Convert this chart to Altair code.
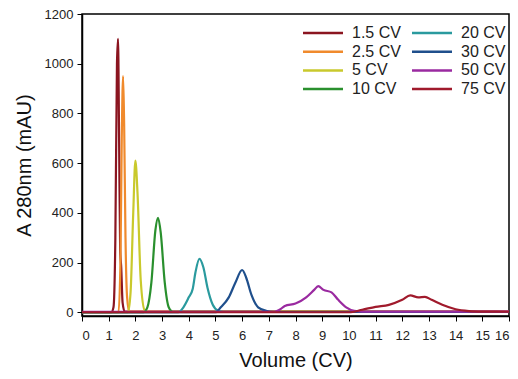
import altair as alt
import pandas as pd

series_names = ["1.5 CV", "2.5 CV", "5 CV", "10 CV", "20 CV", "30 CV", "50 CV", "75 CV"]
series_colors = ["#8b1520", "#f08a2c", "#c9c92c", "#2a902e", "#2a9a9e", "#1f4f8c", "#9a2aa0", "#a01a2c"]

x_15 = [0, 1.1, 1.18, 1.25, 1.31, 1.35, 1.39, 1.43, 1.47, 1.52, 1.6, 16]
y_15 = [0, 0, 20, 300, 1000, 1100, 700, 250, 180, 40, 3, 3]
x_25 = [0, 1.37, 1.44, 1.49, 1.54, 1.58, 1.63, 1.69, 1.77, 16]
y_25 = [0, 0, 200, 700, 950, 750, 300, 60, 3, 2]
x_5 = [0, 1.72, 1.82, 1.92, 2.0, 2.08, 2.2, 2.35, 2.5, 16]
y_5 = [0, 0, 80, 400, 610, 480, 130, 8, 1, 1]
x_10 = [0, 2.3, 2.45, 2.6, 2.75, 2.85, 2.95, 3.1, 3.25, 3.4, 16]
y_10 = [0, 0, 20, 120, 330, 380, 320, 120, 20, 2, 1]
x_20 = [0, 3.6, 3.8, 4.0, 4.15, 4.25, 4.4, 4.55, 4.7, 4.9, 5.1, 5.3, 16]
y_20 = [0, 0, 20, 60, 95, 160, 215, 180, 100, 30, 6, 1, 1]
x_30 = [0, 5.0, 5.2, 5.5, 5.75, 6.0, 6.15, 6.35, 6.6, 6.9, 7.2, 16]
y_30 = [0, 0, 20, 60, 120, 170, 140, 70, 20, 6, 1, 1]
x_50 = [0, 7.2, 7.4, 7.6, 8.0, 8.4, 8.7, 8.85, 9.05, 9.35, 9.6, 9.9, 10.2, 10.5, 16]
y_50 = [2, 2, 10, 25, 35, 60, 90, 105, 90, 80, 50, 20, 6, 3, 3]
x_75 = [0, 10.0, 10.5, 11.0, 11.5, 12.0, 12.3, 12.6, 12.85, 13.1, 13.5, 14.0, 14.5, 15.0, 16]
y_75 = [0, 0, 10, 22, 30, 50, 68, 60, 62, 50, 30, 12, 5, 3, 2]

xs = [x_15, x_25, x_5, x_10, x_20, x_30, x_50, x_75]
ys = [y_15, y_25, y_5, y_10, y_20, y_30, y_50, y_75]

rows = []
for i, (name, xv, yv) in enumerate(zip(series_names, xs, ys)):
    for a, b in zip(xv, yv):
        rows.append({"series": name, "order": i, "x": a, "y": b})
df = pd.DataFrame(rows)

# manual two-column legend (column-major), pixel positions inside the plot area
leg_rows = []
for i, name in enumerate(series_names):
    col, row = divmod(i, 4)
    x0 = 221 + col * 109
    leg_rows.append({"series": name, "sx": x0, "sx2": x0 + 40, "tx": x0 + 49,
                     "ly": 19 + row * 18.7})
leg = pd.DataFrame(leg_rows)

font = "Liberation Sans"
cscale = alt.Scale(domain=series_names, range=series_colors)

lines = alt.Chart(df).mark_line(strokeWidth=2.2, interpolate="monotone").encode(
    x=alt.X("x:Q", scale=alt.Scale(domain=[0, 16], nice=False),
            axis=alt.Axis(title="Volume (CV)", values=list(range(0, 17)), grid=False,
                          labelFontSize=13, titleFontSize=20, titleFontWeight="normal",
                          titlePadding=8, tickSize=5, labelPadding=8, format="d",
                          domainColor="black", domainWidth=1.5, tickColor="black",
                          labelColor="#222", titleColor="#111",
                          labelFont=font, titleFont=font)),
    y=alt.Y("y:Q", scale=alt.Scale(domain=[-15, 1200], nice=False),
            axis=alt.Axis(title="A 280nm (mAU)", values=list(range(0, 1201, 200)), grid=False,
                          labelFontSize=13, titleFontSize=20, titleFontWeight="normal",
                          titlePadding=10, tickSize=5, labelPadding=4, format="d",
                          domainColor="black", domainWidth=1.5, tickColor="black",
                          labelColor="#222", titleColor="#111",
                          labelFont=font, titleFont=font)),
    color=alt.Color("series:N", scale=cscale, legend=None),
    order=alt.Order("order:Q"),
    detail="series:N",
)

leg_lines = alt.Chart(leg).mark_rule(strokeWidth=2.5).encode(
    x=alt.X("sx:Q", scale=None, axis=None),
    x2="sx2:Q",
    y=alt.Y("ly:Q", scale=None, axis=None),
    color=alt.Color("series:N", scale=cscale, legend=None),
)

leg_text = alt.Chart(leg).mark_text(align="left", baseline="middle", fontSize=16,
                                    font=font, color="#222").encode(
    x=alt.X("tx:Q", scale=None, axis=None),
    y=alt.Y("ly:Q", scale=None, axis=None),
    text="series:N",
)

chart = alt.layer(lines, leg_lines, leg_text).resolve_scale(
    x="independent", y="independent"
).properties(
    width=427, height=302,
    padding={"left": 74, "top": 6, "right": 1, "bottom": 55},
    autosize=alt.AutoSizeParams(type="none"),
).configure_view(stroke="black", strokeWidth=1.5)

chart.save("out.html", embed_options={"renderer": "svg", "actions": False})
